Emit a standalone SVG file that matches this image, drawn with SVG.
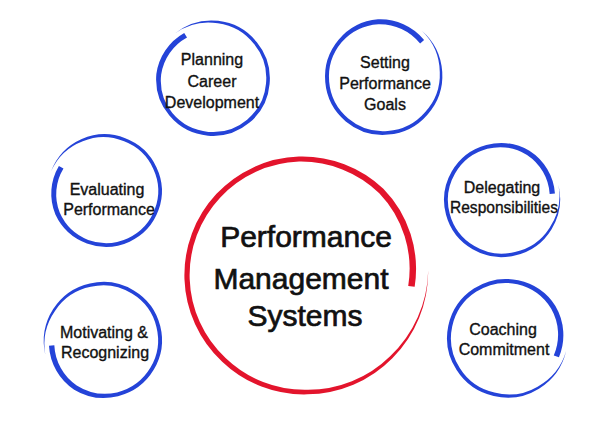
<svg xmlns="http://www.w3.org/2000/svg" xmlns:xlink="http://www.w3.org/1999/xlink" width="600" height="431" viewBox="0 0 600 431">
<style>
.blue{fill:#2443d8}
.red{fill:#e3142c}
text{font-family:"Liberation Sans",Arial,Helvetica,sans-serif;fill:#111;stroke:#111;text-anchor:middle}
.s{font-size:16px;stroke-width:0.35}
.b{font-size:30px;stroke-width:0.7}
</style>
<defs>
<path id="brushB" d="M108,0 A107,107 0 0 1 75.09,75.09 A105,105 0 0 1 0,104.05 A104,104 0 0 1 -73.04,73.04 A103.4,103.4 0 0 1 -103.5,0 A103.5,103.5 0 0 1 -73.19,-73.19 A103.5,103.5 0 0 1 0,-103.5 A103.5,103.5 0 0 1 73.11,-73.11 A101,101 0 0 1 97.84,13.75 L88.33,12.42 A92,92 0 0 0 66.89,-66.89 A95.5,95.5 0 0 0 0,-96.5 A96.5,96.5 0 0 0 -68.24,-68.24 A96.5,96.5 0 0 0 -96.5,0 A96.6,96.6 0 0 0 -68.38,68.38 A97.3,97.3 0 0 0 0,97.95 A100,100 0 0 0 71.98,71.98 A105,105 0 0 0 108,0 Z"/>
<path id="brushR" d="M108,0 A106,106 0 0 1 74.46,74.46 A104,104 0 0 1 0,102.95 A102.5,102.5 0 0 1 -72.23,72.23 A102.2,102.2 0 0 1 -102.25,0 A102.25,102.25 0 0 1 -72.3,-72.3 A102.2,102.2 0 0 1 0,-102.15 A102,102 0 0 1 71.84,-71.84 A99,99 0 0 1 95.86,13.47 L90.32,12.69 A94,94 0 0 0 68.16,-68.16 A97,97 0 0 0 0,-97.85 A97.8,97.8 0 0 0 -69.12,-69.12 A97.75,97.75 0 0 0 -97.75,0 A97.8,97.8 0 0 0 -69.19,69.19 A98.5,98.5 0 0 0 0,99.05 A101,101 0 0 0 72.62,72.62 A105,105 0 0 0 108,0 Z"/>
</defs>
<rect width="600" height="431" fill="#fff"/>
<g id="connectors"/>
<g id="center">
<use xlink:href="#brushR" href="#brushR" class="red" transform="translate(303,275) rotate(-2) scale(1.16)"/>
<text class="b" x="306" y="247">Performance</text>
<text class="b" x="301" y="289">Management</text>
<text class="b" x="305" y="326">Systems</text>
</g>
<g id="planning">
<use xlink:href="#brushB" href="#brushB" class="blue" transform="translate(213,79) rotate(230) scale(0.55)"/>
<text class="s" x="212" y="65">Planning</text>
<text class="s" x="212" y="87">Career</text>
<text class="s" x="212" y="108">Development</text>
</g>
<g id="setting">
<use xlink:href="#brushB" href="#brushB" class="blue" transform="translate(383,77) rotate(310) scale(0.56)"/>
<text class="s" x="385" y="68">Setting</text>
<text class="s" x="385" y="89">Performance</text>
<text class="s" x="385" y="110">Goals</text>
</g>
<g id="evaluating">
<use xlink:href="#brushB" href="#brushB" class="blue" transform="translate(106,191) rotate(200) scale(0.54)"/>
<text class="s" x="107" y="195">Evaluating</text>
<text class="s" x="109" y="215">Performance</text>
</g>
<g id="delegating">
<use xlink:href="#brushB" href="#brushB" class="blue" transform="translate(501,200) rotate(-15) scale(0.55)"/>
<text class="s" x="502" y="193">Delegating</text>
<text class="s" x="504" y="213" textLength="108" lengthAdjust="spacingAndGlyphs">Responsibilities</text>
</g>
<g id="motivating">
<use xlink:href="#brushB" href="#brushB" class="blue" transform="translate(104,340) rotate(166) scale(0.56)"/>
<text class="s" x="104" y="338">Motivating &amp;</text>
<text class="s" x="105" y="358">Recognizing</text>
</g>
<g id="coaching">
<use xlink:href="#brushB" href="#brushB" class="blue" transform="translate(506,338) rotate(12) scale(0.57)"/>
<text class="s" x="503" y="335">Coaching</text>
<text class="s" x="504" y="355">Commitment</text>
</g>
</svg>
